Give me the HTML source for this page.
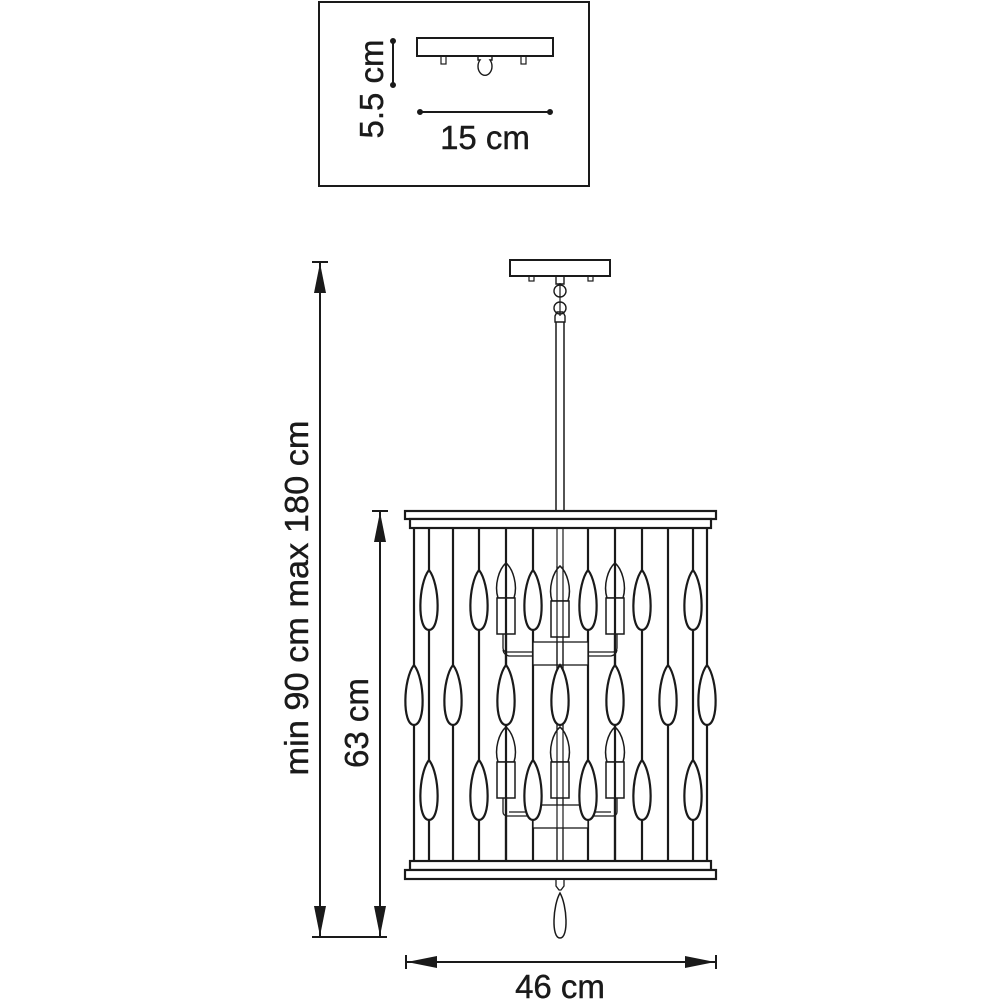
<!DOCTYPE html>
<html><head><style>html,body{margin:0;padding:0;background:#fff}svg{display:block}</style></head>
<body>
<svg width="1000" height="1000" viewBox="0 0 1000 1000" xmlns="http://www.w3.org/2000/svg" font-family="Liberation Sans, sans-serif">
<defs>
<path id="td" d="M0,0 C11,14 12,60 0,60 C-12,60 -11,14 0,0 Z" fill="#fff" stroke="#1a1a1a" stroke-width="2.2"/>
<g id="cd" fill="#fff" stroke="#1a1a1a" stroke-width="1.5">
<path d="M0,0 C7,6 12,22 8,35 L-8,35 C-12,22 -7,6 0,0 Z"/>
<rect x="-9" y="35" width="18" height="36"/>
</g>
<polygon id="ah" points="0,0 -6,-30 6,-30" fill="#1a1a1a"/>
</defs>
<g stroke="#1a1a1a" fill="none">
<rect x="319" y="2" width="270" height="184" stroke-width="2"/>
<rect x="417" y="38" width="136" height="18" stroke-width="2"/>
<rect x="441" y="56" width="5" height="8" stroke-width="1.2"/>
<rect x="521" y="56" width="5" height="8" stroke-width="1.2"/>
<path d="M478,56 v4 h2 a7,9 0 1 0 10,0 h2 v-4" stroke-width="1.4"/>
<line x1="393" y1="40" x2="393" y2="86" stroke-width="2"/>
<line x1="419" y1="112" x2="551" y2="112" stroke-width="2"/>
<circle cx="420" cy="112" r="2.5" fill="#1a1a1a"/><circle cx="550" cy="112" r="2.5" fill="#1a1a1a"/>
<circle cx="393" cy="41" r="2.5" fill="#1a1a1a"/><circle cx="393" cy="85" r="2.5" fill="#1a1a1a"/>

<rect x="510" y="260" width="100" height="16" stroke-width="2"/>
<rect x="529" y="276" width="5" height="5" stroke-width="1.2"/>
<rect x="588" y="276" width="5" height="5" stroke-width="1.2"/>
<path d="M556,276 v8 h8 v-8" stroke-width="1.4"/>
<circle cx="560" cy="291" r="6" stroke-width="1.4"/>
<circle cx="560" cy="308" r="6" stroke-width="1.4"/>
<line x1="560" y1="283" x2="560" y2="316" stroke-width="1.2"/>
<path d="M555,316 l2,-4 h6 l2,4 v6 h-10 z" stroke-width="1.4"/>
<line x1="556" y1="322" x2="556" y2="511" stroke-width="1.5"/>
<line x1="564" y1="322" x2="564" y2="511" stroke-width="1.5"/>

<line x1="557" y1="528" x2="557" y2="861" stroke-width="1.2"/>
<line x1="563" y1="528" x2="563" y2="861" stroke-width="1.2"/>

<g stroke-width="2.2">
<line x1="414" y1="528" x2="414" y2="861"/><line x1="429" y1="528" x2="429" y2="861"/>
<line x1="453" y1="528" x2="453" y2="861"/><line x1="479" y1="528" x2="479" y2="861"/>
<line x1="506" y1="528" x2="506" y2="861"/><line x1="533" y1="528" x2="533" y2="861"/>
<line x1="588" y1="528" x2="588" y2="861"/><line x1="615" y1="528" x2="615" y2="861"/>
<line x1="642" y1="528" x2="642" y2="861"/><line x1="668" y1="528" x2="668" y2="861"/>
<line x1="693" y1="528" x2="693" y2="861"/><line x1="707" y1="528" x2="707" y2="861"/>
</g>

<g stroke-width="1.3">
<path d="M503,634 v14 a4,4 0 0 0 4,4 h33 v4 h-31 a7,7 0 0 1 -6,-6"/>
<path d="M617,634 v14 a4,4 0 0 1 -4,4 h-33 v4 h31 a7,7 0 0 0 6,-6"/>
<rect x="533" y="642" width="55" height="23" fill="#fff"/>
<path d="M503,798 v14 a4,4 0 0 0 4,4 h33 v-4 h-31" />
<path d="M617,798 v14 a4,4 0 0 1 -4,4 h-33 v-4 h31"/>
<rect x="533" y="805" width="55" height="23" fill="#fff"/>
<line x1="557" y1="642" x2="557" y2="665"/><line x1="563" y1="642" x2="563" y2="665"/>
</g>
</g>
<use href="#cd" x="506" y="563"/><use href="#cd" x="560" y="566"/><use href="#cd" x="615" y="563"/>
<use href="#cd" x="506" y="727"/><use href="#cd" x="560" y="727"/><use href="#cd" x="615" y="727"/>
<g stroke="#1a1a1a" stroke-width="1.2"><line x1="557" y1="566" x2="557" y2="861"/><line x1="563" y1="566" x2="563" y2="861"/><line x1="506" y1="563" x2="506" y2="861" stroke-width="2.2"/><line x1="615" y1="563" x2="615" y2="861" stroke-width="2.2"/></g>
<use href="#td" x="429" y="570"/><use href="#td" x="479" y="570"/><use href="#td" x="533" y="570"/>
<use href="#td" x="588" y="570"/><use href="#td" x="642" y="570"/><use href="#td" x="693" y="570"/>
<use href="#td" x="414" y="665"/><use href="#td" x="453" y="665"/><use href="#td" x="506" y="665"/>
<use href="#td" x="560" y="665"/><use href="#td" x="615" y="665"/><use href="#td" x="668" y="665"/><use href="#td" x="707" y="665"/>
<use href="#td" x="429" y="760"/><use href="#td" x="479" y="760"/><use href="#td" x="533" y="760"/>
<use href="#td" x="588" y="760"/><use href="#td" x="642" y="760"/><use href="#td" x="693" y="760"/>

<g stroke="#1a1a1a" fill="#fff" stroke-width="2.2">
<rect x="405" y="511" width="311" height="8"/>
<rect x="410" y="519" width="301" height="9"/>
<rect x="410" y="861" width="301" height="9"/>
<rect x="405" y="870" width="311" height="9"/>
<path d="M556,880 v6 l3,4 h2 l3,-4 v-6" stroke-width="1.3"/>
<path d="M560,893 C567,905 569,938 560,938 C551,938 553,905 560,893 Z" stroke-width="1.5"/>
</g>

<g stroke="#1a1a1a" stroke-width="2">
<line x1="320" y1="262" x2="320" y2="937"/>
<line x1="312" y1="262" x2="328" y2="262"/>
<line x1="380" y1="511" x2="380" y2="937"/>
<line x1="372" y1="511" x2="388" y2="511"/>
<line x1="312" y1="937" x2="387" y2="937"/>
<line x1="406" y1="962" x2="716" y2="962"/>
<line x1="406" y1="955" x2="406" y2="969"/><line x1="716" y1="955" x2="716" y2="969"/>
</g>
<use href="#ah" transform="translate(320,263) rotate(180)"/>
<use href="#ah" transform="translate(320,936)"/>
<use href="#ah" transform="translate(380,512) rotate(180)"/>
<use href="#ah" transform="translate(380,936)"/>
<use href="#ah" transform="translate(407,962) rotate(90)"/>
<use href="#ah" transform="translate(715,962) rotate(-90)"/>

<g fill="#1a1a1a" font-size="33" text-anchor="middle" stroke="#1a1a1a" stroke-width="0.4">
<text x="485" y="149">15 cm</text>
<text transform="translate(383,89) rotate(-90)">5.5 cm</text>
<text transform="translate(308,598) rotate(-90)" textLength="355" lengthAdjust="spacingAndGlyphs">min 90 cm max 180 cm</text>
<text transform="translate(368,723) rotate(-90)">63 cm</text>
<text x="560" y="998">46 cm</text>
</g>
</svg>
</body></html>
